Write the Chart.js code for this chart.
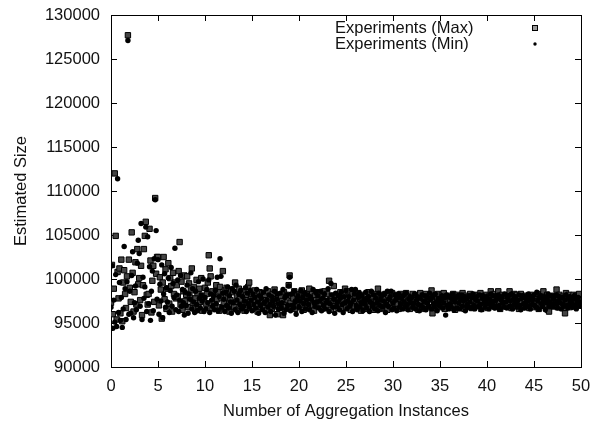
<!DOCTYPE html>
<html>
<head>
<meta charset="utf-8">
<title>Estimated Size vs Aggregation Instances</title>
<script src="https://cdn.jsdelivr.net/npm/chart.js@4/dist/chart.umd.min.js"></script>
<style>
  html, body { margin: 0; padding: 0; background: #fff; }
  #chart { display: block; }
</style>
</head>
<body>
<canvas id="chart" width="602" height="421"></canvas>
<script>
// series labels (legend order)
const SERIES_LABELS = ['Experiments (Max)', 'Experiments (Min)'];
// x positions: instance counts sampled every 0.1 from 0 to 50
const X_START = 0;
const X_STEP = 0.1;
// axis ticks
const X_TICKS = [0, 5, 10, 15, 20, 25, 30, 35, 40, 45, 50];
const Y_TICKS = [90000, 95000, 100000, 105000, 110000, 115000, 120000, 125000, 130000];

// Max series, one row per unit of x (x = row + 0.0 .. row + 0.9)
const maxValues = [
  97300, 101600, 96000, 98900, 112000, 104900, 95400, 100800, 97800, 101200,
  96100, 102200, 95200, 99600, 101000, 98300, 96700, 100300, 127700, 102200,
  99000, 97400, 105300, 100700, 96300, 98500, 101900, 97100, 103400, 99400,
  100100, 97600, 101500, 95900, 99300, 103400, 104900, 106500, 98200, 97100,
  98300, 105700, 102100, 96200, 99800, 101500, 97400, 109200, 100600, 102500,
  102500, 97000, 100200, 98800, 95500, 99600, 102500, 97700, 101100, 96600,
  98900, 101800, 97200, 100100, 99200, 96300, 100700, 98300, 99600, 97800,
  99300, 98000, 100900, 104200, 97100, 99700, 96500, 98600, 100400, 97500,
  98200, 100300, 96800, 99500, 97900, 98700, 101200, 97300, 99100, 96600,
  97800, 99900, 98400, 96900, 98900, 97400, 100100, 96400, 98100, 97600,
  99000, 97200, 98300, 99600, 102700, 101200, 100300, 96700, 98600, 97500,
  98100, 96900, 99300, 97700, 98600, 96400, 99100, 97900, 96800, 100900,
  97300, 98700, 96600, 99000, 97900, 98400, 96300, 97600, 98800, 97100,
  98500, 96800, 99600, 97400, 98100, 96500, 98900, 97700, 96900, 98300,
  97000, 98600, 96400, 97800, 98200, 96700, 99100, 99600, 97400, 98000,
  98300, 97000, 96600, 98700, 97500, 98100, 96300, 97800, 98500, 97200,
  96800, 98400, 97600, 96900, 98200, 97300, 96500, 98600, 97100, 95900,
  97900, 96600, 98300, 97400, 98800, 96900, 97700, 96000, 98100, 97300,
  96700, 98000, 97500, 95900, 98500, 97100, 96800, 98200, 97600, 99300,
  100400, 97300, 98100, 96900, 97800, 98600, 96600, 97400, 98300, 97000,
  98200, 96800, 97600, 98700, 97100, 96500, 98000, 97500, 98400, 96900,
  97400, 98900, 96700, 97900, 98300, 97000, 96400, 98100, 97600, 98500,
  96900, 97700, 98400, 97200, 96600, 98000, 97500, 98600, 97100, 96800,
  98300, 97000, 99800, 97600, 96500, 98100, 97300, 99200, 96900, 98000,
  97500, 98200, 96700, 97900, 98500, 97100, 96600, 97700, 98300, 98900,
  96800, 97400, 98600, 97000, 98100, 96500, 97800, 98300, 97200, 96900,
  98000, 97500, 96700, 98400, 97100, 97800, 96400, 98200, 97600, 97000,
  97300, 98100, 96600, 97700, 98500, 97200, 96900, 98000, 97400, 96500,
  98300, 96800, 97500, 98000, 98900, 97100, 96600, 97900, 98200, 97400,
  96700, 97800, 98300, 97000, 96500, 98100, 97600, 96900, 97300, 98400,
  97600, 98000, 96800, 97400, 98200, 97100, 96600, 97800, 98300, 97000,
  98100, 97200, 96700, 97900, 98400, 96900, 97500, 98000, 96600, 97700,
  97000, 98300, 97500, 96800, 97800, 98200, 97100, 96500, 97900, 98400,
  97500, 96900, 98100, 97700, 96600, 98300, 97200, 97800, 98000, 96800,
  98200, 98700, 96100, 97600, 98000, 97100, 96700, 97900, 98300, 97300,
  96800, 97700, 98200, 97000, 98400, 96600, 97500, 98000, 97200, 96900,
  98100, 97400, 96700, 97900, 98300, 97100, 96500, 97800, 98200, 97000,
  97600, 98000, 96900, 97300, 98400, 97700, 96600, 98100, 97200, 97900,
  96800, 97500, 98300, 97100, 96700, 98000, 97600, 98200, 96900, 97400,
  98100, 97000, 97700, 98400, 96600, 97300, 98000, 96800, 97900, 98200,
  97200, 96700, 98000, 97500, 98600, 97100, 96900, 97800, 98300, 97400,
  96800, 98000, 98600, 97300, 96600, 97900, 98200, 97000, 97600, 98100,
  97500, 96900, 98100, 97200, 98600, 97700, 96700, 98000, 97400, 98300,
  96900, 97600, 98200, 97100, 96600, 97900, 98300, 97300, 96800, 98000,
  97700, 98100, 96900, 97400, 98000, 96700, 97600, 98200, 97100, 97800,
  96800, 98000, 97500, 97200, 98300, 96600, 97900, 98100, 97000, 97600,
  98600, 97300, 96900, 97800, 98200, 96500, 96300, 97500, 98000, 97100,
  97600, 98100, 97000, 97700, 98800, 96800, 97400, 98200, 97200, 96900,
  98000, 97300, 96700, 96100, 98400, 97100, 97800, 98200, 96800, 97500,
  97300, 97900, 98200, 96900, 97600, 98100, 97000, 97700, 98300, 97400,
  97600
];

// Min series, same x positions
const minValues = [
  96800, 101500, 94400, 97600, 95100, 100500, 94600, 111400, 96200, 99600,
  95300, 97900, 94500, 96600, 103700, 98900, 95400, 99700, 127100, 96000,
  98600, 96100, 100400, 103100, 95600, 97300, 99200, 96500, 101800, 104400,
  102900, 96900, 106300, 95400, 100200, 97800, 99100, 105900, 96300, 104800,
  97200, 101400, 95300, 98600, 100900, 96400, 102300, 109000, 105500, 97700,
  102200, 96000, 99400, 97500, 101600, 95600, 98300, 100600, 96800, 99000,
  97400, 100100, 96200, 98700, 101300, 96900, 99500, 97900, 103500, 96500,
  98200, 99900, 96300, 97600, 100400, 96900, 98800, 97300, 95900, 98500,
  97000, 99300, 96100, 98300, 97700, 100700, 96600, 98900, 97400, 96200,
  98600, 97100, 96400, 99700, 97800, 96700, 98200, 97500, 100000, 96300,
  97900, 96600, 98800, 97300, 99900, 96200, 98300, 97600, 96900, 98100,
  96500, 98700, 97200, 100200, 96400, 98000, 102300, 100300, 96800, 98400,
  97700, 96300, 98500, 97000, 99100, 96700, 98100, 97400, 96100, 98900,
  97300, 98600, 96500, 99300, 97600, 96200, 98300, 97100, 98700, 96600,
  98000, 96900, 97500, 99000, 96300, 98400, 97200, 96800, 98700, 97600,
  96400, 98300, 97100, 97900, 96700, 98800, 97400, 96100, 98100, 97000,
  97800, 96500, 98500, 97300, 96200, 98900, 97600, 96800, 98200, 97100,
  96300, 98000, 97500, 96900, 98600, 95900, 97700, 98300, 96600, 97200,
  98400, 96700, 97300, 98800, 96100, 97900, 96500, 98200, 97000, 99200,
  100200, 96400, 98300, 97000, 96700, 98600, 97400, 96000, 97800, 98100,
  96800, 97500, 98700, 96300, 97900, 97200, 98400, 96600, 97600, 98200,
  97100, 96500, 98000, 97700, 96200, 98800, 97300, 96900, 98500, 97400,
  98100, 96700, 97500, 98600, 96400, 97800, 97000, 98300, 96600, 97300,
  97600, 98900, 96300, 97200, 99500, 98200, 96800, 97700, 96100, 98400,
  96900, 97400, 98100, 96500, 97800, 98500, 97100, 96200, 98000, 97300,
  98700, 96600, 97500, 98000, 96900, 97200, 98800, 96300, 97600, 98300,
  98800, 97000, 96500, 97900, 98400, 96800, 97300, 98100, 96400, 97700,
  97200, 98500, 96700, 97600, 98000, 96300, 97400, 98600, 96900, 97100,
  98200, 96600, 97800, 97300, 96400, 98400, 97000, 97600, 98100, 96800,
  97500, 98300, 96200, 97100, 98600, 96900, 97700, 98000, 98600, 96500,
  97300, 96700, 98200, 97600, 96400, 97900, 98300, 96800, 97200, 97800,
  96600, 98100, 97400, 96900, 98400, 97100, 96500, 97700, 98000, 97300,
  97900, 96800, 97200, 98300, 96600, 97600, 98000, 97100, 96400, 97800,
  97000, 98200, 96700, 97500, 98100, 96500, 97300, 97900, 96900, 98400,
  97700, 96600, 98000, 97200, 96800, 98300, 97400, 96400, 97800, 97100,
  96900, 97600, 98100, 96700, 97300, 97900, 95900, 98200, 97000, 96600,
  98000, 97200, 96800, 97700, 98300, 96500, 97400, 97900, 96700, 98100,
  97300, 96600, 97800, 98200, 96900, 97500, 98000, 96400, 97700, 97100,
  96800, 98100, 97400, 96700, 97900, 98300, 97000, 96600, 97600, 98000,
  97500, 96900, 98200, 97100, 96500, 97800, 98100, 97300, 96800, 97600,
  98000, 97200, 96600, 97700, 98300, 96900, 97400, 98100, 96700, 97500,
  96900, 97800, 98200, 97000, 96600, 97600, 98000, 97300, 96800, 98300,
  97400, 96700, 97900, 98100, 96900, 97500, 98300, 96600, 97700, 97100,
  98000, 97300, 96800, 97600, 98200, 97000, 96500, 97800, 98100, 97200,
  96700, 97900, 97400, 96900, 98300, 97600, 96600, 98000, 97100, 97700,
  98200, 97000, 96800, 98500, 97500, 96600, 97900, 98100, 97200, 96900,
  97600, 98000, 96500, 97300, 97800, 98300, 96900, 97400, 98100, 97000,
  96800, 97700, 98100, 97200, 98200, 96700, 97500, 98000, 97300, 96600,
  97900, 97100, 96900, 97600, 98200, 97000, 96700, 97800, 98000, 97400,
  97200, 96800, 97700, 98100, 97000, 96600, 97500, 97900, 97300, 96900,
  97400
];

const FONT = { family: '"Liberation Sans", Arial, Helvetica, sans-serif', size: 16.5 };
const INK = '#111';
const TICK_LEN = -6; // negative: tick marks point into the plot, like gnuplot

function toPoints(vals){ return vals.map((v, i) => ({ x: X_START + i * X_STEP, y: v })); }

// shared axis pieces: full box border, inward tick marks, no grid
function axisGrid(){ return { display: true, drawOnChartArea: false, drawTicks: true, tickLength: TICK_LEN, color: '#000', lineWidth: 1 }; }
function axisBorder(){ return { display: true, color: '#000', width: 1 }; }
// keep tick-label overhang from pushing the plot area around
function fitX(h){ return s => { s.height = h; s.paddingLeft = 0; s.paddingRight = 0; }; }
function fitY(w){ return s => { s.width = w; s.paddingTop = 0; s.paddingBottom = 0; }; }

// key in the top-right corner: text left-aligned, marker on the right
const keyPlugin = {
  id: 'key',
  afterDraw(chart){
    const { ctx, chartArea: a } = chart;
    const textLeft = a.left + 224, markX = a.right - 46;
    ctx.save();
    ctx.font = FONT.size + 'px ' + FONT.family;
    ctx.textAlign = 'left'; ctx.textBaseline = 'middle';
    chart.data.datasets.forEach((ds, i) => {
      const y = a.top + 13 + i * 16;
      ctx.fillStyle = INK;
      ctx.fillText(ds.label, textLeft, y);
      if (ds.pointStyle === 'circle') {
        ctx.fillStyle = '#000'; ctx.beginPath(); ctx.arc(markX, y, 1.7, 0, Math.PI * 2); ctx.fill();
      } else {
        ctx.fillStyle = '#999'; ctx.fillRect(markX - 2, y - 2, 4, 4);
        ctx.strokeStyle = '#000'; ctx.lineWidth = 1; ctx.strokeRect(markX - 2.5, y - 2.5, 5, 5);
      }
    });
    ctx.restore();
  }
};

new Chart(document.getElementById('chart'), {
  type: 'scatter',
  data: {
    datasets: [
      { label: SERIES_LABELS[0], data: toPoints(maxValues), pointStyle: 'rect', pointRadius: 3.8,
        backgroundColor: '#444', borderColor: '#000', borderWidth: 1, order: 2 },
      { label: SERIES_LABELS[1], data: toPoints(minValues), pointStyle: 'circle', pointRadius: 2.7,
        backgroundColor: '#000', borderColor: '#000', borderWidth: 0, order: 1 }
    ]
  },
  options: {
    responsive: false,
    animation: false,
    events: [],
    layout: { padding: { top: 15, right: 21, left: 0, bottom: 0 } },
    plugins: { legend: { display: false }, tooltip: { enabled: false } },
    scales: {
      x: {
        type: 'linear', position: 'bottom', min: 0, max: 50,
        afterFit: fitX(54),
        afterBuildTicks(s){ s.ticks = X_TICKS.map(v => ({ value: v })); },
        grid: axisGrid(), border: axisBorder(),
        ticks: { padding: 16, color: INK, font: FONT, maxRotation: 0, callback: v => String(v) },
        title: { display: true, text: 'Number of Aggregation Instances', color: INK, font: FONT, padding: { top: 0, bottom: 0 } }
      },
      xTop: {
        type: 'linear', position: 'top', axis: 'x', min: 0, max: 50,
        afterFit: fitX(0),
        afterBuildTicks(s){ s.ticks = X_TICKS.map(v => ({ value: v })); },
        grid: axisGrid(), border: axisBorder(),
        ticks: { display: false }
      },
      y: {
        type: 'linear', position: 'left', min: 90000, max: 130000,
        afterFit: fitY(111),
        afterBuildTicks(s){ s.ticks = Y_TICKS.map(v => ({ value: v })); },
        grid: axisGrid(), border: axisBorder(),
        ticks: { padding: 17, color: INK, font: FONT, callback: v => String(v) },
        title: { display: true, text: 'Estimated Size', color: INK, font: FONT, padding: { top: 12, bottom: 0 } }
      },
      yRight: {
        type: 'linear', position: 'right', axis: 'y', min: 90000, max: 130000,
        afterFit: fitY(0),
        afterBuildTicks(s){ s.ticks = Y_TICKS.map(v => ({ value: v })); },
        grid: axisGrid(), border: axisBorder(),
        ticks: { display: false }
      }
    }
  },
  plugins: [keyPlugin]
});
</script>
</body>
</html>
